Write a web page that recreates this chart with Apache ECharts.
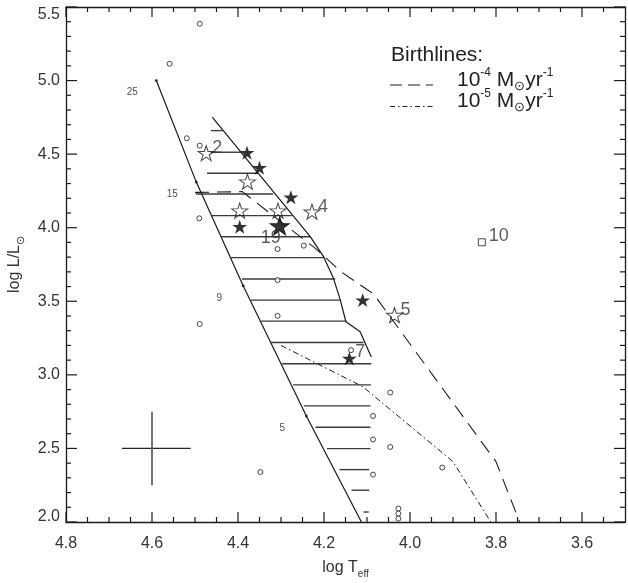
<!DOCTYPE html>
<html>
<head>
<meta charset="utf-8">
<script src="https://cdn.jsdelivr.net/npm/echarts@6/dist/echarts.min.js"></script>
<style>
  html, body { margin: 0; padding: 0; background: #fff; }
  #chart { width: 628px; height: 583px; }
</style>
</head>
<body>
<div id="chart"></div>
<script>
// ZAMS line and mass marks on it
const zamsLogT = [4.59, 4.497, 4.388, 4.241, 4.113];
const zamsLogL = [5.0, 4.31, 3.605, 2.72, 2.0];
const massLogT = [4.59, 4.497, 4.388, 4.241];
const massLogL = [5.0, 4.31, 3.605, 2.72];
const massLabels = ['25', '15', '9', '5'];

// right edge of the hatched region
const edgeLogT = [4.46, 4.232, 4.201, 4.178, 4.162, 4.149, 4.116, 4.09];
const edgeLogL = [4.751, 3.939, 3.803, 3.656, 3.508, 3.361, 3.293, 3.122];

// hatch segments: level, left end, right end
const hatchLogL = [4.660, 4.513, 4.370, 4.229, 4.082, 3.939, 3.797, 3.651, 3.508, 3.365,
  3.220, 3.075, 2.932, 2.789, 2.644, 2.499, 2.356, 2.216, 2.068];
const hatchLeft = [4.463, 4.464, 4.472, 4.498, 4.462, 4.439, 4.416, 4.391, 4.370, 4.346,
  4.323, 4.298, 4.272, 4.247, 4.220, 4.193, 4.164, 4.136, 4.108];
const hatchRight = [4.436, 4.393, 4.353, 4.318, 4.275, 4.232, 4.199, 4.174, 4.162, 4.148,
  4.108, 4.090, 4.091, 4.092, 4.092, 4.092, 4.095, 4.095, 4.096];

// birthlines
const bl4LogT = [4.50, 4.39, 4.30, 4.22, 4.16, 4.10, 4.085, 3.80, 3.745];
const bl4LogL = [4.24, 4.245, 4.04, 3.86, 3.70, 3.58, 3.55, 2.41, 2.0];
const bl5LogT = [4.30, 4.11, 3.90, 3.812];
const bl5LogL = [3.20, 2.92, 2.41, 2.0];

// small open circles
const circLogT = [4.489, 4.559, 4.519, 4.489, 4.490, 4.308, 4.247, 4.308, 4.308, 4.489, 4.137,
  4.046, 4.086, 4.086, 4.046, 3.925, 4.348, 4.086, 4.027, 4.027, 4.027];
const circLogL = [5.386, 5.114, 4.608, 4.558, 4.064, 3.855, 3.878, 3.644, 3.401, 3.345, 3.168,
  2.880, 2.721, 2.561, 2.510, 2.370, 2.340, 2.322, 2.091, 2.057, 2.023];

// open stars
const openLogT = [4.474, 4.378, 4.396, 4.307, 4.228, 4.036];
const openLogL = [4.506, 4.313, 4.116, 4.116, 4.109, 3.406];
const openLabels = ['2', '', '', '', '4', '5'];

// filled stars
const fillLogT = [4.379, 4.350, 4.277, 4.396, 4.110, 4.141];
const fillLogL = [4.510, 4.408, 4.207, 4.007, 3.508, 3.112];
const fillLabels = ['', '', '', '', '', '7'];
const bigLogT = [4.303];
const bigLogL = [4.012];
const bigLabels = ['19'];

// square
const sqLogT = [3.833];
const sqLogL = [3.901];
const sqLabels = ['10'];

// typical error bars
const errLogT = 4.6, errLogL = 2.5;
const errT = [4.67, 4.51];
const errL = [2.25, 2.75];

// ticks
const xMajor = [4.8, 4.6, 4.4, 4.2, 4.0, 3.8, 3.6];
const xMinor = [4.75, 4.7, 4.65, 4.55, 4.5, 4.45, 4.35, 4.3, 4.25, 4.15, 4.1, 4.05,
  3.95, 3.9, 3.85, 3.75, 3.7, 3.65, 3.55];
const yMajor = [2.0, 2.5, 3.0, 3.5, 4.0, 4.5, 5.0, 5.5];
const yMinor = [2.1, 2.2, 2.3, 2.4, 2.6, 2.7, 2.8, 2.9, 3.1, 3.2, 3.3, 3.4, 3.6, 3.7, 3.8, 3.9,
  4.1, 4.2, 4.3, 4.4, 4.6, 4.7, 4.8, 4.9, 5.1, 5.2, 5.3, 5.4];

const X_MIN = 3.5, X_MAX = 4.8, Y_MIN = 2.0, Y_MAX = 5.5;
const FONT = 'Liberation Sans';
const INK = '#1a1a1a';
const STAR = 'path://M100,0L122.45,69.1L195.1,69.1L136.3,111.8L158.8,180.9L100,138.2L41.2,180.9L63.7,111.8L4.9,69.1L77.55,69.1Z';

const zip = (a, b) => a.map((v, i) => [v, b[i]]);

// tick marks drawn inside the frame on both opposite sides
function tickSeries(dim, values, len) {
  const isX = dim === 'x';
  return {
    type: 'custom',
    silent: true,
    clip: false,
    encode: isX ? { x: 0 } : { y: 0 },
    data: values.map(v => [v]),
    renderItem: (params, api) => {
      const v = api.value(0);
      const a = api.coord(isX ? [v, Y_MIN] : [X_MAX, v]);
      const b = api.coord(isX ? [v, Y_MAX] : [X_MIN, v]);
      const st = { stroke: INK, lineWidth: 1.2 };
      return {
        type: 'group',
        children: isX ? [
          { type: 'line', shape: { x1: a[0], y1: a[1], x2: a[0], y2: a[1] - len }, style: st },
          { type: 'line', shape: { x1: b[0], y1: b[1], x2: b[0], y2: b[1] + len }, style: st }
        ] : [
          { type: 'line', shape: { x1: a[0], y1: a[1], x2: a[0] + len, y2: a[1] }, style: st },
          { type: 'line', shape: { x1: b[0], y1: b[1], x2: b[0] - len, y2: b[1] }, style: st }
        ]
      };
    }
  };
}

function axis(dim, pos) {
  const isX = dim === 'x';
  return {
    type: 'value',
    position: pos,
    min: isX ? X_MIN : Y_MIN,
    max: isX ? X_MAX : Y_MAX,
    inverse: isX,
    axisLine: { show: true, onZero: false, lineStyle: { color: INK, width: 1.3 } },
    axisTick: { show: false },
    axisLabel: { show: false },
    splitLine: { show: false }
  };
}

const xBottom = axis('x', 'bottom');
xBottom.axisLabel = {
  show: true, customValues: xMajor, margin: 14,
  formatter: v => v.toFixed(1),
  fontFamily: FONT, fontSize: 16, color: '#333'
};
xBottom.name = 'log T{sub|eff}';
xBottom.nameLocation = 'middle';
xBottom.nameGap = 35;
xBottom.nameTextStyle = {
  fontFamily: FONT, fontSize: 16, color: '#333', lineHeight: 22,
  rich: { sub: { fontFamily: FONT, fontSize: 10, color: '#333', verticalAlign: 'bottom' } }
};

const yLeft = axis('y', 'left');
yLeft.axisLabel = {
  show: true, customValues: yMajor, margin: 6,
  formatter: v => (v === Y_MAX ? '{t|' + v.toFixed(1) + '}' : v === Y_MIN ? '{b|' + v.toFixed(1) + '}' : v.toFixed(1)),
  fontFamily: FONT, fontSize: 16, color: '#333',
  rich: {
    t: { fontFamily: FONT, fontSize: 16, color: '#333', padding: [16, 0, 0, 0] },
    b: { fontFamily: FONT, fontSize: 16, color: '#333', padding: [0, 0, 11, 0] }
  }
};
yLeft.name = 'log L/L{sub|⊙}';
yLeft.nameLocation = 'middle';
yLeft.nameGap = 40;
yLeft.nameTextStyle = {
  fontFamily: FONT, fontSize: 16, color: '#333', lineHeight: 22,
  rich: { sub: { fontSize: 11, color: '#333', verticalAlign: 'bottom' } }
};

const legendRich = {
  sup: { fontFamily: FONT, fontSize: 12, fill: '#222', verticalAlign: 'top', lineHeight: 14 },
  sub: { fontSize: 13, fill: '#222', verticalAlign: 'bottom', lineHeight: 14 }
};

const chart = echarts.init(document.getElementById('chart'));

chart.setOption({
  animation: false,
  backgroundColor: '#fff',
  grid: { left: 66, right: 3, top: 7, bottom: 61, containLabel: false, outerBoundsMode: 'none' },
  xAxis: [xBottom, axis('x', 'top')],
  yAxis: [yLeft, axis('y', 'right')],
  graphic: [
    {
      type: 'text', left: 391, top: 45,
      style: { text: 'Birthlines:', fontFamily: FONT, fontSize: 21, fill: '#222' }
    },
    {
      type: 'line', shape: { x1: 390, y1: 85, x2: 433, y2: 85 },
      style: { stroke: '#222', lineWidth: 1.2, lineDash: [12, 6] }
    },
    {
      type: 'line', shape: { x1: 390, y1: 106.5, x2: 433, y2: 106.5 },
      style: { stroke: '#222', lineWidth: 1.2, lineDash: [5, 3, 1.5, 3] }
    },
    {
      type: 'text', left: 457, top: 67,
      style: { text: '10{sup|-4} M{sub|⊙}yr{sup|-1}', fontFamily: FONT, fontSize: 21, fill: '#222', lineHeight: 26, rich: legendRich }
    },
    {
      type: 'text', left: 457, top: 88,
      style: { text: '10{sup|-5} M{sub|⊙}yr{sup|-1}', fontFamily: FONT, fontSize: 21, fill: '#222', lineHeight: 26, rich: legendRich }
    }
  ],
  series: [
    tickSeries('x', xMajor, 10),
    tickSeries('x', xMinor, 5),
    tickSeries('y', yMajor, 11),
    tickSeries('y', yMinor, 5),
    {
      type: 'custom',
      name: 'hatch',
      silent: true,
      encode: { x: [1, 2], y: 0 },
      data: hatchLogL.map((v, i) => [v, hatchLeft[i], hatchRight[i]]),
      renderItem: (params, api) => {
        const a = api.coord([api.value(1), api.value(0)]);
        const b = api.coord([api.value(2), api.value(0)]);
        return {
          type: 'line',
          shape: { x1: a[0], y1: a[1], x2: b[0], y2: b[1] },
          style: { stroke: '#3a3a3a', lineWidth: 1.4 }
        };
      }
    },
    {
      type: 'line', name: 'ZAMS', data: zip(zamsLogT, zamsLogL),
      symbol: 'none', silent: true,
      lineStyle: { color: INK, width: 1.2 }
    },
    {
      type: 'line', name: 'edge', data: zip(edgeLogT, edgeLogL),
      symbol: 'none', silent: true,
      lineStyle: { color: INK, width: 1.2 }
    },
    {
      type: 'line', name: '1e-4', data: zip(bl4LogT, bl4LogL),
      symbol: 'none', silent: true,
      lineStyle: { color: INK, width: 1.1, type: [14, 8] }
    },
    {
      type: 'line', name: '1e-5', data: zip(bl5LogT, bl5LogL),
      symbol: 'none', silent: true,
      lineStyle: { color: INK, width: 1.0, type: [6, 3, 1.5, 3] }
    },
    {
      type: 'custom',
      name: 'error',
      silent: true,
      encode: { x: [0, 2, 3], y: [1, 4, 5] },
      data: [[errLogT, errLogL, errT[0], errT[1], errL[0], errL[1]]],
      renderItem: (params, api) => {
        const h1 = api.coord([api.value(2), api.value(1)]);
        const h2 = api.coord([api.value(3), api.value(1)]);
        const v1 = api.coord([api.value(0), api.value(4)]);
        const v2 = api.coord([api.value(0), api.value(5)]);
        return {
          type: 'group',
          children: [
            { type: 'line', shape: { x1: h1[0], y1: h1[1], x2: h2[0], y2: h2[1] }, style: { stroke: '#222', lineWidth: 1.3 } },
            { type: 'line', shape: { x1: v1[0], y1: v1[1], x2: v2[0], y2: v2[1] }, style: { stroke: '#666', lineWidth: 1.8 } }
          ]
        };
      }
    },
    {
      type: 'scatter', name: 'mass', data: zip(massLogT, massLogL),
      symbol: 'circle', symbolSize: 3, silent: true,
      itemStyle: { color: INK },
      label: {
        show: true, position: 'inside', offset: [-24, 12],
        formatter: p => massLabels[p.dataIndex],
        fontFamily: FONT, fontSize: 10, color: INK
      }
    },
    {
      type: 'scatter', name: 'circles', data: zip(circLogT, circLogL),
      symbol: 'circle', symbolSize: 5, silent: true,
      itemStyle: { color: '#fff', borderColor: INK, borderWidth: 1 }
    },
    {
      type: 'scatter', name: 'open', data: zip(openLogT, openLogL),
      symbol: STAR, symbolSize: [16, 15], silent: true,
      itemStyle: { color: 'rgba(0,0,0,0)', borderColor: INK, borderWidth: 1 },
      label: {
        show: true, position: 'inside', offset: [11, -5],
        formatter: p => openLabels[p.dataIndex],
        fontFamily: FONT, fontSize: 18, color: '#333'
      }
    },
    {
      type: 'scatter', name: 'filled', data: zip(fillLogT, fillLogL),
      symbol: STAR, symbolSize: [15, 14], silent: true,
      itemStyle: { color: '#000' },
      label: {
        show: true, position: 'inside', offset: [11, -6],
        formatter: p => fillLabels[p.dataIndex],
        fontFamily: FONT, fontSize: 18, color: '#333'
      }
    },
    {
      type: 'scatter', name: 'big', data: zip(bigLogT, bigLogL),
      symbol: STAR, symbolSize: [19, 18], silent: true,
      itemStyle: { color: '#000', borderColor: '#000', borderWidth: 1 },
      label: {
        show: true, position: 'inside', offset: [-9, 12],
        formatter: p => bigLabels[p.dataIndex],
        fontFamily: FONT, fontSize: 18, color: '#333'
      }
    },
    {
      type: 'scatter', name: 'square', data: zip(sqLogT, sqLogL),
      symbol: 'rect', symbolSize: 7, silent: true,
      itemStyle: { color: '#fff', borderColor: INK, borderWidth: 1 },
      label: {
        show: true, position: 'inside', offset: [17, -6],
        formatter: p => sqLabels[p.dataIndex],
        fontFamily: FONT, fontSize: 18, color: '#333'
      }
    }
  ]
});
</script>
</body>
</html>
